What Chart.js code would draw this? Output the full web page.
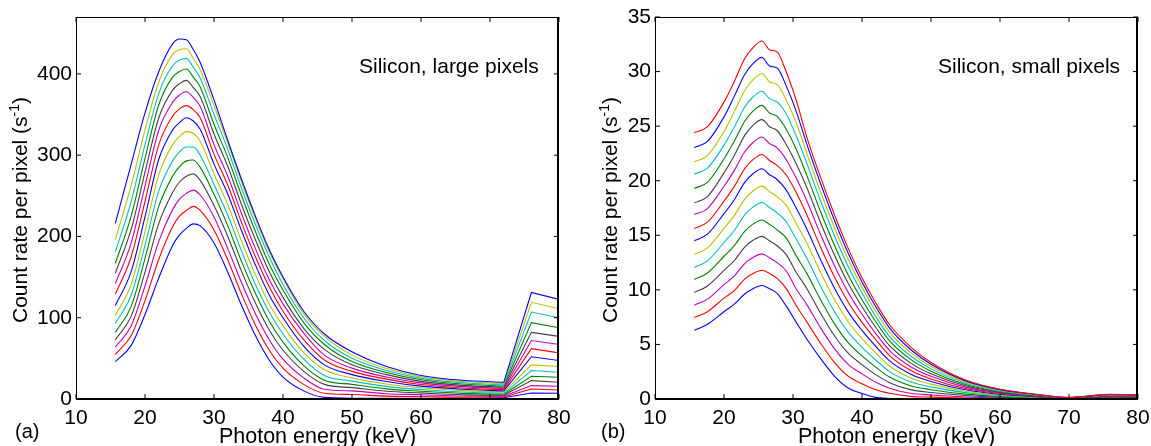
<!DOCTYPE html>
<html>
<head>
<meta charset="utf-8">
<script src="https://cdn.jsdelivr.net/npm/chart.js@4.4.1/dist/chart.umd.min.js"></script>
<style>
  html, body { margin: 0; padding: 0; background: #fff; }
  #wrap { position: relative; width: 1151px; height: 446px; overflow: hidden; }
  canvas { position: absolute; top: 0; }
</style>
</head>
<body>
<div id="wrap">
  <canvas id="largeChart" width="576" height="446" style="left:0"></canvas>
  <canvas id="smallChart" width="575" height="446" style="left:576px"></canvas>
</div>
<script>
// ---- datos ----
const xTicks = [10, 20, 30, 40, 50, 60, 70, 80];
const largeTicks = [0, 100, 200, 300, 400];
const smallTicks = [0, 5, 10, 15, 20, 25, 30, 35];

// (a) silicio, pixeles grandes: energia (keV) y una fila por curva, de arriba a abajo
const largeEnergy = [15.7, 18, 20, 22, 24, 25, 26, 27, 28, 30, 32, 34, 36, 38, 40, 43, 46, 50, 55, 60, 66, 72, 76, 80];
const largeRates = [
  [216, 289, 352, 403, 437, 443, 442, 430, 414, 368, 318, 270, 225, 184, 150, 108, 80, 58, 40, 29, 23, 20.5, 131, 122.6],
  [196, 263, 331, 390, 424, 430, 431, 419, 405, 361, 315, 267, 222, 181, 148, 105, 77, 54, 37.5, 27.2, 21.5, 19, 119, 111],
  [181, 243, 313, 376, 410, 417, 419, 408, 395, 350, 307, 259, 215, 175, 141, 100, 72, 50, 35, 25.4, 20, 17.5, 107, 100],
  [167, 225, 296, 362, 396, 403, 406, 396, 384, 338, 297, 250, 206, 166, 134, 94, 67, 46, 32.5, 23.6, 18.4, 16, 94, 87.6],
  [155, 209, 279, 346, 380, 388, 392, 383, 372, 326, 286, 239, 196, 157, 125, 87, 61, 42, 30, 21.7, 16.8, 14.5, 82, 77],
  [142, 192, 262, 331, 365, 374, 378, 371, 360, 313, 274, 228, 185, 147, 117, 81, 54, 38, 27, 19.8, 15.2, 13, 72, 67],
  [129, 175, 243, 313, 348, 357, 361, 356, 346, 301, 263, 217, 175, 138, 108, 73, 48, 34, 24.5, 17.8, 13.6, 11.5, 62, 56.8],
  [115, 157, 224, 295, 331, 340, 346, 342, 332, 289, 252, 207, 165, 128, 100, 65, 42, 30, 21.5, 15.8, 12, 10, 52, 47.3],
  [103, 141, 206, 276, 313, 323, 329, 327, 317, 277, 239, 194, 153, 117, 90, 57, 36, 26, 18.5, 13.8, 10.3, 8.5, 42, 40],
  [93, 128, 189, 256, 293, 304, 310, 310, 300, 264, 226, 182, 141, 107, 80, 49, 29, 22, 15.5, 11.7, 8.6, 7, 35, 33],
  [82, 114, 173, 237, 274, 286, 293, 294, 285, 252, 213, 169, 130, 96, 70, 41, 23, 18, 12.5, 9.6, 6.9, 5.8, 28, 26.7],
  [73, 102, 156, 216, 254, 267, 274, 277, 269, 238, 200, 157, 118, 85, 60, 34, 18, 14, 9.5, 7.5, 5.3, 4.6, 22.6, 20.6],
  [64, 90, 139, 194, 233, 246, 253, 257, 251, 224, 185, 143, 105, 73, 49, 26, 12, 10, 6.5, 5.3, 3.7, 3.5, 16.5, 15.6],
  [55, 78, 121, 172, 212, 225, 232, 237, 232, 208, 171, 129, 91, 60, 38, 18, 7, 5.5, 3.5, 3, 2.2, 2.5, 12.3, 11.1],
  [46, 66, 104, 149, 189, 202, 210, 215.5, 213, 192, 156, 115, 78, 48, 27, 10, 2, 1, 1, 1, 1, 1.5, 7.4, 7]
];

// (b) silicio, pixeles pequenos
const smallEnergy = [15.7, 17.6, 20, 21.5, 23, 24.2, 25.5, 26.6, 27.7, 29, 30.5, 32, 34, 36, 38, 40, 42, 44, 47, 50, 55, 60, 65, 70, 76, 80];
const smallRates = [
  [24.4, 24.95, 27.2, 29.1, 31.2, 32.2, 32.8, 32.0, 31.8, 30.0, 27.3, 24.0, 20.3, 16.9, 13.8, 11.1, 8.8, 6.8, 4.8, 3.35, 1.75, 0.9, 0.45, 0.15, 0.42, 0.38],
  [23.04, 23.6, 25.85, 27.75, 29.73, 30.72, 31.3, 30.5, 30.32, 28.71, 26.29, 23.35, 19.72, 16.38, 13.35, 10.73, 8.45, 6.5, 4.56, 3.18, 1.66, 0.86, 0.43, 0.14, 0.39, 0.36],
  [21.73, 22.3, 24.51, 26.33, 28.27, 29.24, 29.8, 29.05, 28.8, 27.42, 25.27, 22.52, 18.97, 15.72, 12.78, 10.25, 8.02, 6.13, 4.27, 2.98, 1.56, 0.8, 0.4, 0.13, 0.36, 0.33],
  [20.6, 21.15, 23.26, 24.93, 26.76, 27.67, 28.2, 27.5, 27.22, 26.14, 24.05, 21.6, 18.14, 14.98, 12.14, 9.72, 7.55, 5.72, 3.96, 2.76, 1.44, 0.74, 0.37, 0.12, 0.33, 0.3],
  [19.29, 19.85, 21.99, 23.63, 25.45, 26.37, 26.9, 26.2, 25.9, 24.74, 22.83, 20.49, 17.15, 14.09, 11.37, 9.09, 7.08, 5.32, 3.65, 2.55, 1.33, 0.68, 0.34, 0.11, 0.3, 0.28],
  [17.97, 18.55, 20.72, 22.32, 24.15, 25.07, 25.6, 24.95, 24.6, 23.34, 21.51, 19.38, 16.15, 13.2, 10.6, 8.45, 6.55, 4.88, 3.31, 2.31, 1.21, 0.62, 0.31, 0.1, 0.27, 0.25],
  [16.9, 17.45, 19.49, 20.95, 22.65, 23.5, 24.0, 23.4, 23.01, 21.95, 20.2, 18.17, 15.07, 12.24, 9.77, 7.76, 5.99, 4.44, 2.98, 2.08, 1.09, 0.56, 0.28, 0.09, 0.24, 0.22],
  [15.62, 16.2, 18.13, 19.48, 21.11, 21.93, 22.4, 21.85, 21.41, 20.55, 18.88, 16.88, 13.91, 11.2, 8.87, 7.02, 5.43, 3.97, 2.64, 1.84, 0.96, 0.5, 0.25, 0.08, 0.21, 0.19],
  [14.5, 15.1, 16.98, 18.26, 19.85, 20.64, 21.1, 20.55, 20.11, 19.16, 17.45, 15.58, 12.75, 10.17, 7.98, 6.28, 4.82, 3.49, 2.3, 1.61, 0.84, 0.43, 0.22, 0.07, 0.18, 0.17],
  [13.27, 13.85, 15.64, 16.82, 18.32, 19.06, 19.5, 19.0, 18.54, 17.76, 16.03, 14.29, 11.59, 9.13, 7.08, 5.54, 4.22, 3.02, 1.94, 1.36, 0.71, 0.36, 0.18, 0.06, 0.15, 0.14],
  [12.05, 12.65, 14.34, 15.44, 16.87, 17.58, 18.0, 17.55, 17.06, 16.26, 14.61, 12.9, 10.34, 8.02, 6.12, 4.74, 3.57, 2.51, 1.58, 1.11, 0.58, 0.3, 0.15, 0.05, 0.12, 0.11],
  [10.95, 11.55, 13.08, 14.06, 15.36, 16.02, 16.4, 16.0, 15.5, 14.76, 13.09, 11.51, 9.1, 6.91, 5.16, 3.95, 2.92, 2.01, 1.22, 0.85, 0.45, 0.23, 0.11, 0.04, 0.1, 0.09],
  [9.75, 10.35, 11.78, 12.69, 13.92, 14.54, 14.9, 14.5, 14.04, 13.25, 11.57, 10.13, 7.85, 5.8, 4.2, 3.15, 2.23, 1.5, 0.86, 0.6, 0.32, 0.16, 0.08, 0.03, 0.08, 0.07],
  [8.6, 9.15, 10.48, 11.28, 12.41, 12.97, 13.3, 12.95, 12.49, 11.75, 10.05, 8.65, 6.52, 4.62, 3.18, 2.3, 1.53, 0.99, 0.53, 0.37, 0.19, 0.1, 0.05, 0.02, 0.05, 0.05],
  [7.46, 8.0, 9.24, 9.93, 10.98, 11.5, 11.8, 11.5, 11.05, 10.14, 8.52, 7.07, 5.11, 3.36, 2.09, 1.4, 0.84, 0.52, 0.24, 0.17, 0.09, 0.05, 0.02, 0.01, 0.03, 0.03],
  [6.3, 6.85, 8.0, 8.7, 9.62, 10.11, 10.4, 10.1, 9.67, 8.53, 7.0, 5.5, 3.7, 2.1, 1.0, 0.5, 0.15, 0.05, 0, 0, 0, 0, 0, 0, 0.01, 0.01]
];

// colores de MATLAB
const B = '#0000ff', G = '#008000', R = '#ff0000', C = '#00bfbf', M = '#bf00bf', Y = '#bfbf00', K = '#404040';
const largeColors = [B, Y, C, G, K, M, R, B, Y, C, G, K, M, R, B];
const smallColors = [R, B, Y, C, G, K, M, R, B, Y, C, G, K, M, R, B];

const FONT = '"Liberation Sans", Arial, Helvetica, sans-serif';

// Construye los datasets; si splitAt >= 0 el tramo final va con lineas rectas
function buildDatasets(xs, rows, colors, splitAt) {
  const sets = [];
  rows.forEach((ys, i) => {
    const pts = xs.map((x, j) => ({ x: x, y: ys[j] }));
    const cut = splitAt < 0 ? pts.length : splitAt + 1;
    sets.push({
      data: pts.slice(0, cut), borderColor: colors[i], borderWidth: 1.1,
      pointRadius: 0, fill: false, cubicInterpolationMode: 'monotone'
    });
    if (cut < pts.length) {
      sets.push({
        data: pts.slice(cut - 1), borderColor: colors[i], borderWidth: 1.1,
        pointRadius: 0, fill: false, tension: 0
      });
    }
  });
  return sets;
}

// Marco, ticks hacia dentro y textos estilo MATLAB
const framePlugin = {
  id: 'frame',
  afterDraw(chart, args, opts) {
    const { ctx, chartArea: a } = chart;
    const x = chart.scales.x, y = chart.scales.y;
    ctx.save();
    ctx.strokeStyle = '#000';
    ctx.lineWidth = 1;
    ctx.beginPath();
    x.ticks.forEach(t => {
      const px = x.getPixelForValue(t.value);
      ctx.moveTo(px, a.bottom); ctx.lineTo(px, a.bottom - 5);
      ctx.moveTo(px, a.top); ctx.lineTo(px, a.top + 5);
    });
    y.ticks.forEach(t => {
      const py = y.getPixelForValue(t.value);
      ctx.moveTo(a.left, py); ctx.lineTo(a.left + 5, py);
      ctx.moveTo(a.right, py); ctx.lineTo(a.right - 5, py);
    });
    ctx.stroke();
    ctx.beginPath();
    ctx.moveTo(a.left + 0.5, a.bottom); ctx.lineTo(a.left + 0.5, a.top + 0.5); ctx.lineTo(a.right, a.top + 0.5);
    ctx.stroke();
    ctx.lineWidth = 2;
    ctx.beginPath();
    ctx.moveTo(a.left, a.bottom); ctx.lineTo(a.right - 1, a.bottom); ctx.lineTo(a.right - 1, a.top);
    ctx.stroke();

    ctx.fillStyle = '#000';
    ctx.textAlign = 'left';
    ctx.textBaseline = 'alphabetic';
    ctx.font = '21px ' + FONT;
    ctx.fillText(opts.note, opts.noteX, 72.5);
    ctx.font = '20px ' + FONT;
    ctx.fillText(opts.panel, opts.panelX, 437.5);
    ctx.font = '21.5px ' + FONT;
    ctx.textAlign = 'center';
    ctx.fillText('Photon energy (keV)', (a.left + a.right) / 2, 442.5);

    // titulo del eje y con superindice
    ctx.save();
    ctx.translate(opts.titleX, (a.top + a.bottom) / 2 + 2);
    ctx.rotate(-Math.PI / 2);
    ctx.textAlign = 'left';
    const main = 'Count rate per pixel (s', sup = '-1', end = ')';
    ctx.font = '21px ' + FONT;
    const w1 = ctx.measureText(main).width, w3 = ctx.measureText(end).width;
    ctx.font = '14px ' + FONT;
    const w2 = ctx.measureText(sup).width;
    const x0 = -(w1 + w2 + w3) / 2;
    ctx.font = '21px ' + FONT;
    ctx.fillText(main, x0, 0);
    ctx.fillText(end, x0 + w1 + w2, 0);
    ctx.font = '14px ' + FONT;
    ctx.fillText(sup, x0 + w1, -8);
    ctx.restore();
    ctx.restore();
  }
};

function makeChart(id, xs, rows, colors, splitAt, yMax, yTicks, yWidth, padRight, frameOpts) {
  const tickFont = { family: FONT, size: 21 };
  return new Chart(document.getElementById(id), {
    type: 'line',
    data: { datasets: buildDatasets(xs, rows, colors, splitAt) },
    options: {
      responsive: false,
      animation: false,
      events: [],
      layout: { padding: { left: 0, right: padRight, top: 17, bottom: 0 } },
      plugins: { legend: { display: false }, tooltip: { enabled: false }, frame: frameOpts },
      scales: {
        x: {
          type: 'linear', min: 10, max: 80,
          grid: { display: false, drawTicks: false },
          border: { display: false },
          ticks: { font: tickFont, color: '#000', padding: 7, maxRotation: 0, autoSkip: false },
          afterBuildTicks: s => { s.ticks = xTicks.map(v => ({ value: v })); },
          afterFit: s => { s.height = 47; s.paddingLeft = 0; s.paddingRight = 0; }
        },
        y: {
          type: 'linear', min: 0, max: yMax,
          grid: { display: false, drawTicks: false },
          border: { display: false },
          ticks: { font: tickFont, color: '#000', padding: 4, autoSkip: false },
          afterBuildTicks: s => { s.ticks = yTicks.map(v => ({ value: v })); },
          afterFit: s => { s.width = yWidth; s.paddingTop = 0; s.paddingBottom = 0; }
        }
      }
    },
    plugins: [framePlugin]
  });
}

makeChart('largeChart', largeEnergy, largeRates, largeColors, 21, 470, largeTicks, 76, 17,
  { note: 'Silicon, large pixels', noteX: 359, panel: '(a)', panelX: 15, titleX: 27 });
makeChart('smallChart', smallEnergy, smallRates, smallColors, -1, 35, smallTicks, 79, 13,
  { note: 'Silicon, small pixels', noteX: 362, panel: '(b)', panelX: 25, titleX: 41 });
</script>
</body>
</html>
